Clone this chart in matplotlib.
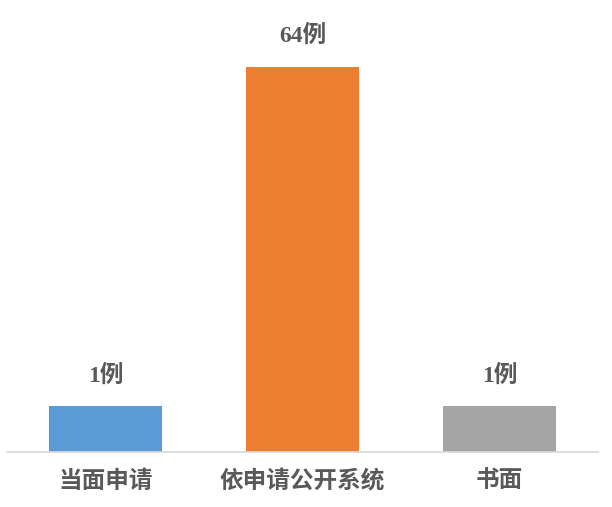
import matplotlib
matplotlib.use("Agg")
import matplotlib.pyplot as plt

plt.rcParams['font.family'] = ['Liberation Serif', 'Noto Sans CJK SC', 'DejaVu Sans']

# data
categories = ["当面申请", "依申请公开系统", "书面"]
values = [1, 64, 1]
labels = ["1例", "64例", "1例"]
colors = ["#5B9BD5", "#ED7D31", "#A5A5A5"]

fig = plt.figure(figsize=(6.12, 5.07), dpi=100)
ax = fig.add_axes([7 / 612, 55 / 507, 591 / 612, 442 / 507])

x = range(len(categories))
bars = ax.bar(x, values, width=0.57, color=colors, bottom=0)
ax.set_yscale("log")
ax.set_ylim(0.57, 128)
ax.set_xlim(-0.5, 2.5)

# value labels
for rect, lab in zip(bars, labels):
    ax.annotate(lab, (rect.get_x() + rect.get_width() / 2, rect.get_height()),
                xytext=(0, 14), textcoords="offset points",
                ha="center", va="bottom", fontsize=17, fontweight="bold",
                color="#595959")

ax.set_xticks(list(x))
ax.set_xticklabels(categories, fontsize=17, color="#595959",
                   fontweight="bold")
ax.tick_params(axis="x", length=0, pad=13)
ax.set_yticks([])
ax.yaxis.set_minor_locator(matplotlib.ticker.NullLocator())
for s in ["top", "left", "right"]:
    ax.spines[s].set_visible(False)
ax.spines["bottom"].set_color("#D9D9D9")
ax.spines["bottom"].set_linewidth(1.2)

fig.savefig("out.png", dpi=100)
